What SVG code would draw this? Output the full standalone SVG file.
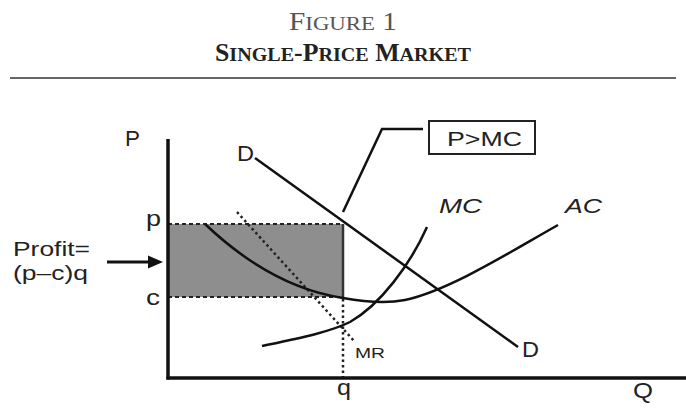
<svg xmlns="http://www.w3.org/2000/svg" width="686" height="411" viewBox="0 0 686 411">
<style>
.t{font-family:"Liberation Sans",Arial,sans-serif;fill:#222}
.ttl{font-family:"Liberation Serif","Times New Roman",serif}
.ax{stroke:#111;stroke-width:3.5;fill:none}
.cv{stroke:#111;stroke-width:2.5;fill:none}
.dash{stroke:#222;stroke-width:2.2;stroke-dasharray:4 3;fill:none}
.dot{stroke:#222;stroke-width:2.5;stroke-dasharray:2.5 3;fill:none}
</style>
<rect width="686" height="411" fill="#fff"/>
<g id="title">
<text class="ttl" x="289" y="30" font-size="25" fill="#555" textLength="108" lengthAdjust="spacingAndGlyphs">F<tspan font-size="19.5">IGURE</tspan> 1</text>
<text class="ttl" x="215" y="61" font-size="25" fill="#222" font-weight="bold" textLength="256" lengthAdjust="spacingAndGlyphs">S<tspan font-size="19.5">INGLE</tspan>-P<tspan font-size="19.5">RICE</tspan> M<tspan font-size="19.5">ARKET</tspan></text>
<line x1="10" y1="78" x2="676" y2="78" stroke="#666" stroke-width="2"/>
</g>
<g id="profit-area">
<rect x="168" y="224" width="175" height="73" fill="#8e8e8e"/>
</g>
<g id="connectors">
<line class="dash" x1="168" y1="224" x2="343" y2="224"/>
<line class="dash" x1="168" y1="297" x2="343" y2="297"/>
<line x1="343" y1="224" x2="343" y2="297" stroke="#333" stroke-width="2.5"/>
<line class="dot" x1="343" y1="299" x2="343" y2="378"/>
<polyline class="cv" stroke-width="2" points="423,129 382,129 343,212"/>
<line x1="107" y1="262" x2="150" y2="262" stroke="#111" stroke-width="3"/>
<polygon points="163,262 148,255.5 148,268.5" fill="#111"/>
</g>
<g id="axes">
<line class="ax" x1="168" y1="139" x2="168" y2="379.5"/>
<line class="ax" x1="166.5" y1="378" x2="686" y2="378"/>
<text class="t" x="125" y="146" font-size="22" textLength="15" lengthAdjust="spacingAndGlyphs">P</text>
<text class="t" x="633" y="398" font-size="22" textLength="20" lengthAdjust="spacingAndGlyphs">Q</text>
<text class="t" x="337" y="395" font-size="22" textLength="14" lengthAdjust="spacingAndGlyphs">q</text>
<text class="t" x="146" y="226" font-size="22" textLength="15" lengthAdjust="spacingAndGlyphs">p</text>
<text class="t" x="146" y="305" font-size="22" textLength="14" lengthAdjust="spacingAndGlyphs">c</text>
</g>
<g id="profit-label">
<text class="t" x="13" y="256" font-size="21" textLength="77" lengthAdjust="spacingAndGlyphs">Profit=</text>
<text class="t" x="13" y="280" font-size="21" textLength="75" lengthAdjust="spacingAndGlyphs">(p–c)q</text>
</g>
<g id="demand">
<line class="cv" x1="255" y1="158" x2="518" y2="347"/>
<text class="t" x="237" y="161" font-size="22" textLength="17" lengthAdjust="spacingAndGlyphs">D</text>
<text class="t" x="522" y="357" font-size="22" textLength="17" lengthAdjust="spacingAndGlyphs">D</text>
</g>
<g id="mr">
<line class="dot" x1="237" y1="212" x2="355" y2="342"/>
<text class="t" x="355" y="358" font-size="14" textLength="30" lengthAdjust="spacingAndGlyphs">MR</text>
</g>
<g id="ac">
<path class="cv" d="M205,224 C245,262 290,290 343,298 C365,302 385,304 405,300 C450,290 510,252 558,225"/>
<text class="t" x="565" y="213" font-size="21" font-style="italic" textLength="37" lengthAdjust="spacingAndGlyphs">AC</text>
</g>
<g id="mc">
<path class="cv" d="M262,346 C300,338 330,332 350,322 C380,305 410,265 427,227"/>
<text class="t" x="439" y="213" font-size="21" font-style="italic" textLength="43" lengthAdjust="spacingAndGlyphs">MC</text>
</g>
<g id="pmc-box">
<rect x="429" y="121" width="106" height="33" fill="#fff" stroke="#222" stroke-width="2"/>
<text class="t" x="447" y="146" font-size="21" textLength="75" lengthAdjust="spacingAndGlyphs">P&gt;MC</text>
</g>
</svg>
